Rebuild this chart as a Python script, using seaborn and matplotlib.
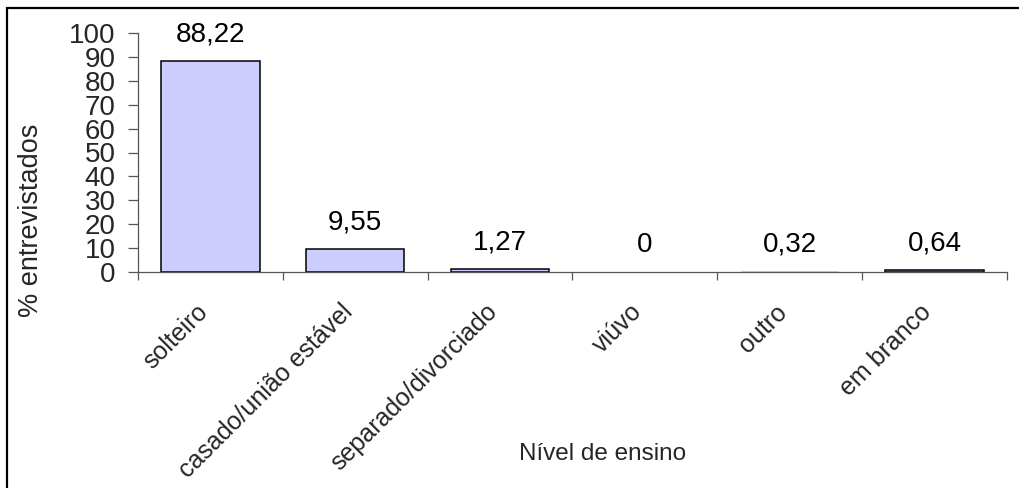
import matplotlib
matplotlib.use("Agg")
import matplotlib.pyplot as plt
import matplotlib.transforms as mtransforms
import numpy as np
import pandas as pd
import seaborn as sns

# dados
categorias = ['solteiro', 'casado/união estável', 'separado/divorciado',
              'viúvo', 'outro', 'em branco']
percentuais = [88.22, 9.55, 1.27, 0, 0.32, 0.64]
rotulos = ['88,22', '9,55', '1,27', '0', '0,32', '0,64']
yticks = list(range(0, 101, 10))

sns.set_theme(style="white")
plt.rcParams['font.family'] = ['Liberation Sans', 'DejaVu Sans']

df = pd.DataFrame({'categoria': categorias, 'pct': percentuais})

fig = plt.figure(figsize=(10.19, 4.88), dpi=100)
ax = fig.add_axes([138 / 1019, 1 - 272 / 488, 869 / 1019, 239 / 488])

sns.barplot(data=df, x='categoria', y='pct', color='#CCCCFF', saturation=1,
            edgecolor='black', linewidth=1.1, width=0.68, ax=ax)

# barras muito baixas (< 1 px) nao aparecem no original
for bar in ax.patches:
    if bar.get_height() < 0.5:
        bar.set_edgecolor('none')

# valores acima das barras
ax.bar_label(ax.containers[0], labels=rotulos, padding=10, fontsize=20,
             color='black', clip_on=False)

ax.set_ylim(0, 100)
ax.set_xlim(-0.5, len(categorias) - 0.5)
ax.set_yticks(yticks)
ax.set_yticklabels([str(t) for t in yticks], fontsize=20)

# ticks entre categorias (estilo Excel)
ax.set_xticks(np.arange(-0.5, len(categorias)), minor=True)
ax.tick_params(axis='x', which='minor', length=5.8, width=0.9,
               color='#555555', direction='out', bottom=True)
ax.tick_params(axis='x', which='major', length=0, pad=20)
ax.tick_params(axis='y', which='major', length=7, width=0.9,
               color='#555555', direction='out', left=True, pad=9)

offset = mtransforms.ScaledTranslation(-15 / 100, 0, fig.dpi_scale_trans)
for lbl in ax.get_xticklabels():
    lbl.set_rotation(45)
    lbl.set_ha('right')
    lbl.set_va('top')
    lbl.set_rotation_mode('anchor')
    lbl.set_fontsize(18)
    lbl.set_transform(lbl.get_transform() + offset)

for side in ['top', 'right']:
    ax.spines[side].set_visible(False)
for side in ['left', 'bottom']:
    ax.spines[side].set_color('#555555')
    ax.spines[side].set_linewidth(0.9)

ax.set_ylabel('% entrevistados', fontsize=19.5)
ax.yaxis.set_label_coords(-0.108, (272 - 220) / 239)
ax.set_xlabel('Nível de ensino', fontsize=17.5)
ax.xaxis.set_label_coords((603 - 138) / 869, (272 - 443) / 239)

# moldura do grafico (apenas esquerda e topo visiveis)
fig.add_artist(plt.Rectangle((7 / 1019, -0.2), 1.2, 1 - 8 / 488 + 0.2,
                             transform=fig.transFigure, fill=False,
                             edgecolor='black', linewidth=1.6))

fig.savefig('out.png', dpi=100)
